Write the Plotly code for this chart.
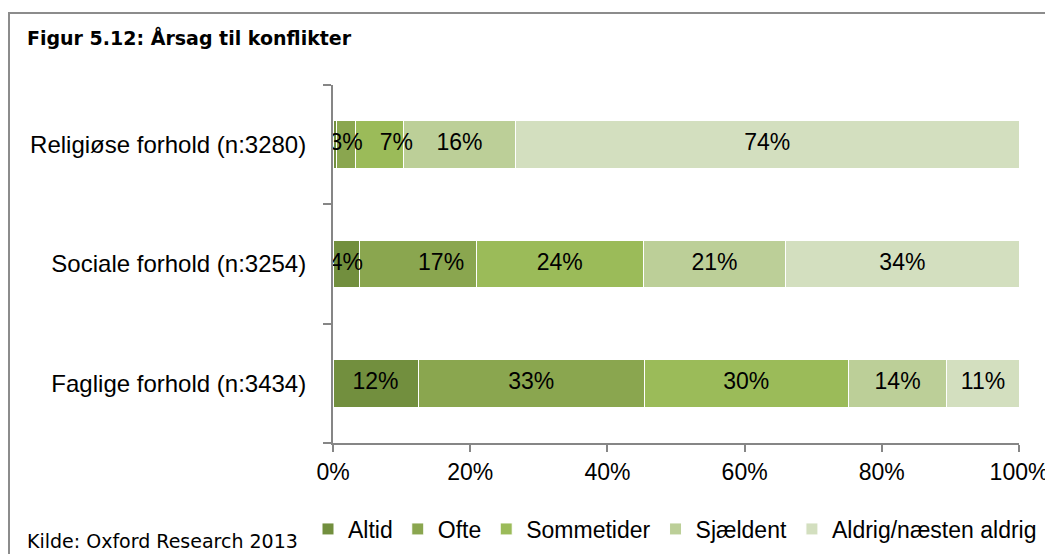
import plotly.graph_objects as go

categories = ["Faglige forhold (n:3434)", "Sociale forhold (n:3254)", "Religiøse forhold (n:3280)"]
series_names = ["Altid", "Ofte", "Sommetider", "Sjældent", "Aldrig/næsten aldrig"]
altid = [12.4, 3.9, 0.5]
ofte = [33.0, 17.0, 2.8]
sommetider = [29.7, 24.3, 7.0]
sjaeldent = [14.4, 20.8, 16.3]
aldrig = [10.5, 34.0, 73.4]
altid_labels = ["12%", "4%", ""]
ofte_labels = ["33%", "17%", "3%"]
sommetider_labels = ["30%", "24%", "7%"]
sjaeldent_labels = ["14%", "21%", "16%"]
aldrig_labels = ["11%", "34%", "74%"]
x_ticks = [0, 20, 40, 60, 80, 100]
x_ticklabels = ["0%", "20%", "40%", "60%", "80%", "100%"]

colors = ["#728f3e", "#8aa64f", "#9bbb59", "#bccf98", "#d3dfbf"]
values = [altid, ofte, sommetider, sjaeldent, aldrig]
label_sets = [altid_labels, ofte_labels, sommetider_labels, sjaeldent_labels, aldrig_labels]

# page offset caused by the default 8px body margin
OFF = 8
W, H = 1053 - OFF, 554 - OFF
L = 333 - OFF
T = 85 - OFF
R = W - (1019 - OFF)
B = H - (443 - OFF)
pw = W - L - R
ph = H - T - B

def px_x(p):  # p in page pixels
    return (p - OFF - L) / pw

def px_y(p):
    return (H - B - (p - OFF)) / ph

FONT = "Liberation Sans"

fig = go.Figure()
for name, vals, col in zip(series_names, values, colors):
    fig.add_trace(go.Bar(
        y=categories, x=vals, name=name, orientation="h",
        marker=dict(color=col, line=dict(color="white", width=1)),
        hoverinfo="x+name",
    ))

# data labels at the centre of each stacked segment (drawn on top of all bars);
# a label in a segment too narrow for it is nudged right, as in the original
lab_x, lab_y, lab_t, lab_pos = [], [], [], []
cum = [0.0] * len(categories)
prev_small = [False] * len(categories)
for vals, labs in zip(values, label_sets):
    for i, (v, t) in enumerate(zip(vals, labs)):
        if t:
            lab_x.append(cum[i] + v / 2)
            lab_y.append(categories[i])
            lab_t.append(t)
            lab_pos.append("middle right" if prev_small[i] else "middle center")
            prev_small[i] = v < 5
        cum[i] += v
fig.add_trace(go.Scatter(
    x=lab_x, y=lab_y, text=lab_t, mode="text", showlegend=False, hoverinfo="skip",
    textfont=dict(family=FONT, size=23, color="black"), textposition=lab_pos,
))

fig.update_layout(
    width=W, height=H,
    barmode="stack", bargap=0.6,
    margin=dict(l=L, r=R, t=T, b=B, autoexpand=False),
    paper_bgcolor="white", plot_bgcolor="white",
    font=dict(family=FONT, size=23, color="black"),
    xaxis=dict(range=[0, 100], tickvals=x_ticks, ticktext=x_ticklabels,
               showgrid=False, zeroline=False, showline=True, linecolor="#868686",
               linewidth=2, ticks="outside", ticklen=7, tickcolor="#868686", tickwidth=2,
               tickfont=dict(family=FONT, size=23, color="black")),
    yaxis=dict(type="category", categoryorder="array", categoryarray=categories,
               range=[-0.5, 2.5], showgrid=False, showline=True, linecolor="#868686",
               linewidth=2, ticks="outside", tickson="boundaries", ticklen=8,
               tickcolor="#868686", tickwidth=2, ticklabelstandoff=20,
               tickfont=dict(family=FONT, size=24, color="black")),
    legend=dict(orientation="h", x=px_x(308), xanchor="left", y=px_y(529), yanchor="middle",
                font=dict(family=FONT, size=23, color="black"), traceorder="normal",
                itemwidth=30, bgcolor="rgba(0,0,0,0)", borderwidth=0),
    showlegend=True,
)

fig.add_shape(type="rect", xref="paper", yref="paper",
              x0=px_x(9), x1=px_x(1080), y0=px_y(13), y1=px_y(600),
              line=dict(color="#8c8c8c", width=2), fillcolor="rgba(0,0,0,0)", layer="below")

fig.add_annotation(xref="paper", yref="paper", x=px_x(25), y=px_y(38), xanchor="left", yanchor="middle",
                   text="<b>Figur 5.12: Årsag til konflikter</b>", showarrow=False,
                   font=dict(family="DejaVu Sans", size=19, color="black"))
fig.add_annotation(xref="paper", yref="paper", x=px_x(25), y=px_y(541), xanchor="left", yanchor="middle",
                   text="Kilde: Oxford Research 2013", showarrow=False,
                   font=dict(family="DejaVu Sans", size=19, color="black"))

fig.write_html("out.html")
